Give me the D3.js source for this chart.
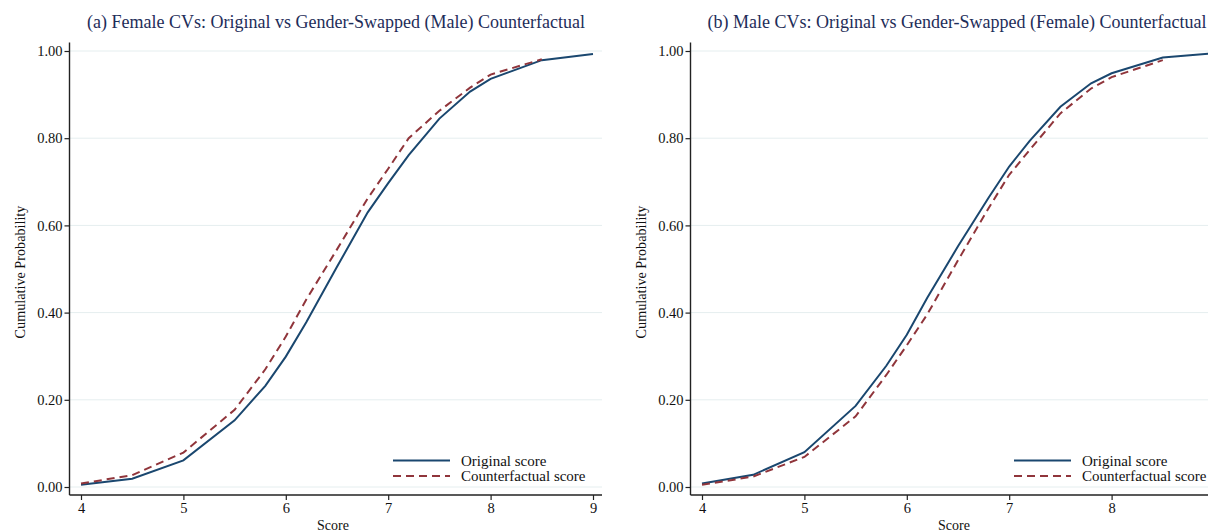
<!DOCTYPE html>
<html>
<head>
<meta charset="utf-8">
<script src="https://cdn.jsdelivr.net/npm/d3@7"></script>
<style>
  body { margin: 0; background: #fff; overflow: hidden; }
  svg { display: block; font-family: "Liberation Serif", "Times New Roman", serif; }
</style>
</head>
<body>
<script>
// Score grid shared by every series
const scores = [4, 4.5, 5, 5.5, 5.8, 6, 6.2, 6.5, 6.8, 7, 7.2, 7.5, 7.8, 8, 8.5, 9];

// (a) female CVs
const femaleOriginal = [0.005, 0.019, 0.061, 0.153, 0.232, 0.299, 0.378, 0.505, 0.630, 0.697, 0.761, 0.845, 0.907, 0.936, 0.979, 0.993];
const femaleCounter  = [0.008, 0.027, 0.079, 0.177, 0.270, 0.345, 0.430, 0.545, 0.662, 0.730, 0.800, 0.863, 0.916, 0.946, 0.981];

// (b) male CVs
const maleOriginal = [0.008, 0.028, 0.080, 0.186, 0.278, 0.349, 0.434, 0.552, 0.664, 0.735, 0.794, 0.872, 0.926, 0.949, 0.985, 0.995];
const maleCounter  = [0.005, 0.024, 0.069, 0.162, 0.257, 0.325, 0.396, 0.520, 0.640, 0.716, 0.773, 0.857, 0.914, 0.940, 0.979];

const yTicks = [0, 0.2, 0.4, 0.6, 0.8, 1];
const xTicks = [4, 5, 6, 7, 8, 9];
const legendLabels = ["Original score", "Counterfactual score"];

const width = 1208;
const height = 532;
const blue = "#1a476f";
const red = "#90353b";

const svg = d3.select("body").append("svg")
    .attr("width", width)
    .attr("height", height);

drawPanel(0, "(a) Female CVs: Original vs Gender-Swapped (Male) Counterfactual", femaleOriginal, femaleCounter);
drawPanel(621, "(b) Male CVs: Original vs Gender-Swapped (Female) Counterfactual", maleOriginal, maleCounter);

function drawPanel(dx, title, orig, cf) {
  const g = svg.append("g").attr("transform", "translate(" + dx + ",0)");

  const x = d3.scaleLinear().domain([4, 9]).range([81, 593]);
  const y = d3.scaleLinear().domain([0, 1]).range([487, 51]);

  const left = 69.5, right = 602, top = 42.5, bottom = 495;

  // gridlines
  g.selectAll(".grid")
    .data(yTicks)
    .enter().append("line")
      .attr("x1", left).attr("x2", right)
      .attr("y1", d => y(d)).attr("y2", d => y(d))
      .attr("stroke", "#e5eeef")
      .attr("stroke-width", 1);

  // y axis
  const yAxis = g.append("g")
      .attr("transform", "translate(" + left + ",0)")
      .call(d3.axisLeft(y).tickValues(yTicks).tickFormat(d3.format(".2f")).tickSize(5).tickSizeOuter(0));
  yAxis.select(".domain").remove();
  yAxis.append("line").attr("x1", 0).attr("x2", 0).attr("y1", top).attr("y2", bottom)
      .attr("stroke", "#222").attr("stroke-width", 1.4);

  // x axis (only ticks that fall inside the page are labelled)
  const shownX = xTicks.filter(t => x(t) + dx < width - 4);
  const xAxis = g.append("g")
      .attr("transform", "translate(0," + bottom + ")")
      .call(d3.axisBottom(x).tickValues(shownX).tickFormat(d3.format("d")).tickSize(5).tickSizeOuter(0));
  xAxis.select(".domain").remove();
  xAxis.append("line").attr("x1", left).attr("x2", right).attr("y1", 0).attr("y2", 0)
      .attr("stroke", "#222").attr("stroke-width", 1.4);

  g.selectAll(".tick line").attr("stroke", "#222").attr("stroke-width", 1.2);
  g.selectAll(".tick text")
      .attr("fill", "#111")
      .attr("font-family", null)
      .style("font-family", "'Liberation Serif', serif")
      .style("font-size", "14.5px");
  yAxis.attr("font-size", null).attr("font-family", null);
  xAxis.attr("font-size", null).attr("font-family", null);
  yAxis.selectAll(".tick text").attr("x", -7);
  xAxis.selectAll(".tick text").attr("y", 8);

  // titles
  g.append("text")
      .attr("x", 336).attr("y", 28)
      .attr("text-anchor", "middle")
      .attr("fill", "#1e2d59")
      .style("font-size", "18px")
      .text(title);

  g.append("text")
      .attr("transform", "translate(25,272) rotate(-90)")
      .attr("text-anchor", "middle")
      .attr("fill", "#111")
      .style("font-size", "14.2px")
      .text("Cumulative Probability");

  g.append("text")
      .attr("x", 333).attr("y", 530)
      .attr("text-anchor", "middle")
      .attr("fill", "#111")
      .style("font-size", "14px")
      .text("Score");

  // lines
  const line = d3.line()
      .x(d => x(d[0]))
      .y(d => y(d[1]));

  g.append("path")
      .datum(d3.zip(scores, orig))
      .attr("d", line)
      .attr("fill", "none")
      .attr("stroke", blue)
      .attr("stroke-width", 2);

  g.append("path")
      .datum(d3.zip(scores, cf))
      .attr("d", line)
      .attr("fill", "none")
      .attr("stroke", red)
      .attr("stroke-width", 2)
      .attr("stroke-dasharray", "8,5");

  // legend
  const legend = g.append("g").attr("transform", "translate(393,460.5)");
  legendLabels.forEach((lab, i) => {
    legend.append("line")
        .attr("x1", 0).attr("x2", 57)
        .attr("y1", i * 15.5).attr("y2", i * 15.5)
        .attr("stroke", i === 0 ? blue : red)
        .attr("stroke-width", 2)
        .attr("stroke-dasharray", i === 0 ? null : "8,5");
    legend.append("text")
        .attr("x", 68).attr("y", i * 15.5 + 5)
        .attr("fill", "#111")
        .style("font-size", "15px")
        .text(lab);
  });
}
</script>
</body>
</html>
